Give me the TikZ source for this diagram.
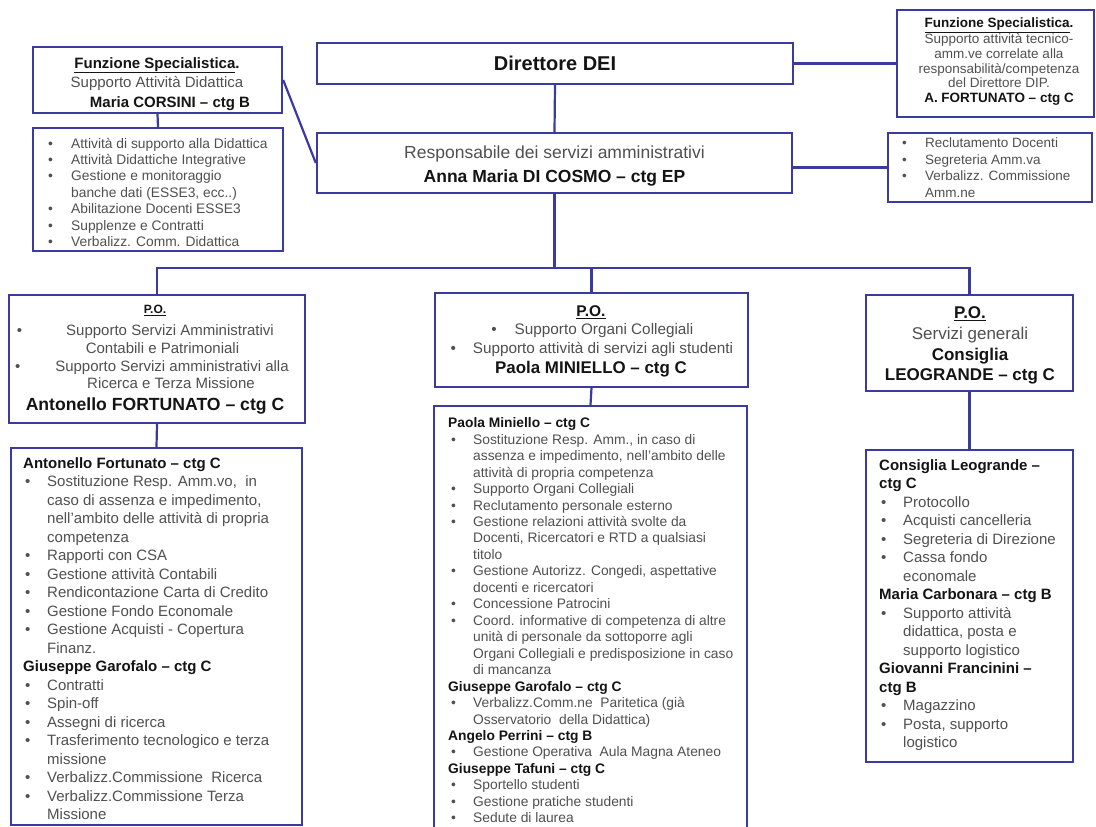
\documentclass[tikz,border=0pt]{standalone}
\usepackage{fontspec}
\setmainfont{Liberation Sans}
\usetikzlibrary{fit}
\definecolor{bx}{RGB}{58,58,160}
\definecolor{tg}{RGB}{80,80,80}
\definecolor{tk}{RGB}{20,20,20}
\newlength\bo \newlength\bt
\newcommand\bu{\hspace*{\bo}\rlap{\textbullet}\hspace*{\dimexpr\bt-\bo\relax}}
\newcommand\ct{\hspace*{\bt}}
\newcommand\hd[1]{{\color{tk}\bfseries #1}}
\newcommand\fs[2]{\fontsize{#1}{#2}\selectfont}
\newcommand\st{\rule{0pt}{0.75em}}
\begin{document}
\begin{tikzpicture}[x=1pt,y=-1pt,
  box/.style={draw=bx, line width=2.4pt, inner sep=0pt, fill=white},
  conn/.style={draw=bx, line width=2.2pt},
  txt/.style={inner sep=0pt, text=tg, align=left, anchor=north west},
  ctxt/.style={inner sep=0pt, text=tg, align=center, anchor=north}]
\useasboundingbox (0,0) rectangle (1096,827);
\clip (0,0) rectangle (1096,827);
\fill[white] (0,0) rectangle (1096,827);
% boxes
\node[box, fit={(317,43) (793,84)}] (dir) {};
\node[box, fit={(317,133) (792,193)}] (resp) {};
\node[box, fit={(33,47) (282,113)}] (fsTL) {};
\node[box, fit={(33,128) (283,251)}] (lTL) {};
\node[box, fit={(897,10) (1094,117)}] (fsTR) {};
\node[box, fit={(888,133) (1092,202)}] (lTR) {};
\node[box, fit={(9,295) (305,423)}] (poL) {};
\node[box, fit={(435,293) (748,387)}] (poM) {};
\node[box, fit={(866,295) (1073,391)}] (poR) {};
\node[box, fit={(11,448) (302,825)}] (lL) {};
\node[box, fit={(434,406) (747,845)}] (lM) {};
\node[box, fit={(866,450) (1073,762)}] (lR) {};
% connectors
\coordinate (bus) at (554.5,268);
\draw[conn] (dir.south) -- (resp.north);
\draw[conn] (dir.east) -- (fsTR.west);
\draw[conn] (resp.east |- lTR.west) -- (lTR.west);
\draw[conn] (fsTL.east) -- (resp.west);
\draw[conn] (fsTL.south) -- (lTL.north);
\draw[conn] (resp.south) -- (bus);
\draw[conn] (poL.north) |- (bus) -| (poR.north);
\draw[conn] (poM.north) -- (poM.north |- bus);
\draw[conn] (poL.south) -- (lL.north);
\draw[conn] (poM.south) -- (lM.north);
\draw[conn] (poR.south) -- (lR.north);
% texts
\node[inner sep=0pt, anchor=base, text=tk, font=\fs{20}{24}\bfseries] (dirT) at (555,70.7) {Direttore DEI};
\node[ctxt, font=\fs{17.5}{24}] (respT) at (554.5,145.6) {\st Responsabile dei servizi amministrativi\\ \hd{Anna Maria DI COSMO – ctg EP}};
\node[ctxt, font=\fs{15}{19.5}] (fsTLt) at (157,56.7) {\st\hd{\underline{Funzione Specialistica}.}\\ Supporto Attività Didattica\\ \hspace*{26pt}\hd{Maria CORSINI – ctg B}};
\node[txt, font={\fs{13.8}{16.4}\bo=0pt\bt=23pt}] (lTLt) at (48,137.5) {\st\bu Attività di supporto alla Didattica\\
\bu Attività Didattiche Integrative\\
\bu Gestione e monitoraggio\\
\ct banche dati (ESSE3, ecc..)\\
\bu Abilitazione Docenti ESSE3\\
\bu Supplenze e Contratti\\
\bu Verbalizz. Comm. Didattica};
\node[ctxt, font=\fs{13.5}{14.7}] (fsTRt) at (999,17.6) {\st\hd{\underline{Funzione Specialistica}.}\\ Supporto attività tecnico-\\ amm.ve correlate alla\\ responsabilità/competenza\\ del Direttore DIP.\\ \hd{A. FORTUNATO – ctg C}};
\node[txt, font={\fs{13.5}{16.5}\bo=0pt\bt=23pt}] (lTRt) at (902,137.6) {\st\bu Reclutamento Docenti\\
\bu Segreteria Amm.va\\
\bu Verbalizz. Commissione\\
\ct Amm.ne};
\node[ctxt, font=\fs{15}{17.7}] (poLt) at (155,302) {\st\hd{\fs{12}{17.7}\underline{P.O.}}\\[4.7pt]
\hspace*{30pt}\llap{\textbullet\hspace{44pt}}Supporto Servizi Amministrativi\\
\hspace*{15pt}Contabili e Patrimoniali\\
\hspace*{34pt}\llap{\textbullet\hspace{35pt}}Supporto Servizi amministrativi alla\\
\hspace*{32pt}Ricerca e Terza Missione\\[4.1pt]
\hd{\fs{17.6}{17.7}Antonello FORTUNATO – ctg C}};
\node[ctxt, font=\fs{15.3}{19}] (poMt) at (591,305.3) {\st\hd{\fs{15.5}{19}\underline{P.O.}}\\[-1.4pt]
\hspace*{26pt}\llap{\textbullet\hspace{18pt}}Supporto Organi Collegiali\\
\hspace*{24pt}\llap{\textbullet\hspace{17pt}}Supporto attività di servizi agli studenti\\[0.5pt]
\hd{\fs{16.9}{19}Paola MINIELLO – ctg C}};
\node[ctxt, font=\fs{17}{20.7}] (poRt) at (970,305.8) {\st\hd{\underline{P.O.}}\\ Servizi generali\\ \hd{Consiglia}\\ \hd{LEOGRANDE – ctg C}};
\node[txt, font={\fs{15}{18.5}\bo=2pt\bt=24pt}] (lLt) at (23,456.7) {\st\hd{Antonello Fortunato – ctg C}\\
\bu Sostituzione Resp. Amm.vo,\ \ in\\
\ct caso di assenza e impedimento,\\
\ct nell'ambito delle attività di propria\\
\ct competenza\\
\bu Rapporti con CSA\\
\bu Gestione attività Contabili\\
\bu Rendicontazione Carta di Credito\\
\bu Gestione Fondo Economale\\
\bu Gestione Acquisti - Copertura\\
\ct Finanz.\\
\hd{Giuseppe Garofalo – ctg C}\\
\bu Contratti\\
\bu Spin-off\\
\bu Assegni di ricerca\\
\bu Trasferimento tecnologico e terza\\
\ct missione\\
\bu Verbalizz.Commissione\ \ Ricerca\\
\bu Verbalizz.Commissione Terza\\
\ct Missione};
\node[txt, font={\fs{13.8}{16.46}\bo=3pt\bt=25pt}] (lMt) at (448,417.2) {\st\hd{Paola Miniello – ctg C}\\
\bu Sostituzione Resp. Amm., in caso di\\
\ct assenza e impedimento, nell'ambito delle\\
\ct attività di propria competenza\\
\bu Supporto Organi Collegiali\\
\bu Reclutamento personale esterno\\
\bu Gestione relazioni attività svolte da\\
\ct Docenti, Ricercatori e RTD a qualsiasi\\
\ct titolo\\
\bu Gestione Autorizz. Congedi, aspettative\\
\ct docenti e ricercatori\\
\bu Concessione Patrocini\\
\bu Coord. informative di competenza di altre\\
\ct unità di personale da sottoporre agli\\
\ct Organi Collegiali e predisposizione in caso\\
\ct di mancanza\\
\hd{Giuseppe Garofalo – ctg C}\\
\bu Verbalizz.Comm.ne\ \ Paritetica (già\\
\ct Osservatorio\ \ della Didattica)\\
\hd{Angelo Perrini – ctg B}\\
\bu Gestione Operativa\ \ Aula Magna Ateneo\\
\hd{Giuseppe Tafuni – ctg C}\\
\bu Sportello studenti\\
\bu Gestione pratiche studenti\\
\bu Sedute di laurea};
\node[txt, font={\fs{15}{18.5}\bo=2pt\bt=24pt}] (lRt) at (879,458.7) {\st\hd{Consiglia Leogrande –}\\
\hd{ctg C}\\
\bu Protocollo\\
\bu Acquisti cancelleria\\
\bu Segreteria di Direzione\\
\bu Cassa fondo\\
\ct economale\\
\hd{Maria Carbonara – ctg B}\\
\bu Supporto attività\\
\ct didattica, posta e\\
\ct supporto logistico\\
\hd{Giovanni Francinini –}\\
\hd{ctg B}\\
\bu Magazzino\\
\bu Posta, supporto\\
\ct logistico};
\end{tikzpicture}
\end{document}
